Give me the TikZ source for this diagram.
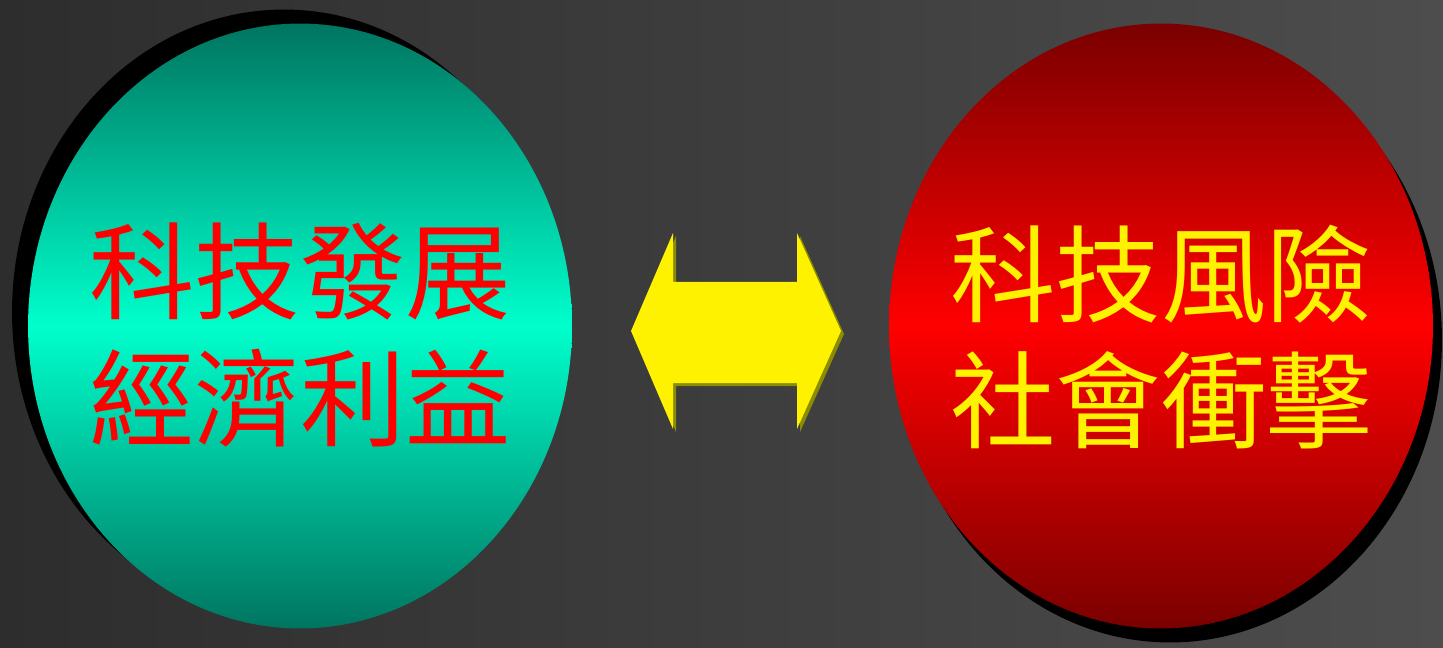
\documentclass[tikz,border=0pt]{standalone}
\usepackage{fontspec}
\newfontfamily\cjk{Noto Sans CJK TC}
\usetikzlibrary{shapes.geometric}
\definecolor{bgdark}{HTML}{2D2D2D}
\definecolor{bglight}{HTML}{4D4D4D}
\definecolor{tealdark}{HTML}{007560}
\definecolor{tealbright}{HTML}{00FFCC}
\definecolor{reddark}{HTML}{7A0000}
\definecolor{redbright}{HTML}{FF0000}
\definecolor{arrowshade}{HTML}{8C8C00}
\begin{document}
\begin{tikzpicture}[x=0.02cm, y=-0.02cm,
  bubble/.style={ellipse, inner sep=0pt, outer sep=0pt, minimum width=10.88cm, minimum height=12.1cm},
  shadowbubble/.style={bubble, fill=black},
  label/.style={font=\cjk\fontsize{60}{72}\selectfont, align=center, inner sep=0pt}]
\useasboundingbox (0,0) rectangle (1443,648);
\shade[left color=bgdark, right color=bglight] (0,0) rectangle (1443,648);

% left: development
\node[shadowbubble] (devshadow) at (284,312) {};
\node[bubble, top color=tealdark, bottom color=tealdark, middle color=tealbright] (dev) at (300,326) {};
\node[label, text=red] (devtext) at (300,335) {科技發展\\經濟利益};

% right: risk
\node[shadowbubble] (riskshadow) at (1170,340) {};
\node[bubble, top color=reddark, bottom color=reddark, middle color=redbright] (risk) at (1161,326) {};
\node[label, text=yellow] (risktext) at (1161,337) {科技風險\\社會衝擊};

% double arrow
\fill[arrowshade] (634,334) -- (676,236) -- (676,285) -- (800,285) -- (800,236) -- (844,334)
  -- (800,432) -- (800,386) -- (676,386) -- (676,432) -- cycle;
\fill[yellow] (631,331) -- (673,233) -- (673,282) -- (797,282) -- (797,233) -- (841,331)
  -- (797,429) -- (797,383) -- (673,383) -- (673,429) -- cycle;
\end{tikzpicture}
\end{document}
